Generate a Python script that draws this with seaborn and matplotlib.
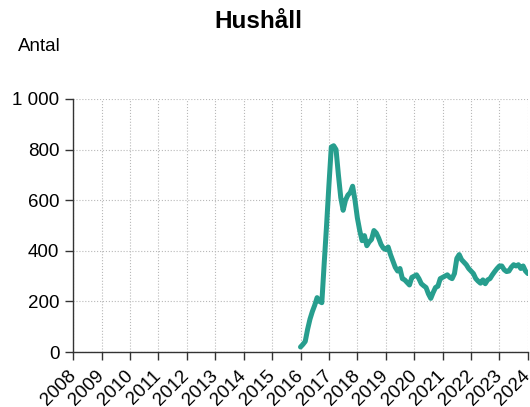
import numpy as np
import pandas as pd
import matplotlib
matplotlib.use("Agg")
import matplotlib.pyplot as plt
import seaborn as sns
from matplotlib.ticker import FuncFormatter

start_year = 2016
values = [20, 30, 42, 90, 130, 160, 185, 215, 200, 195,
          350, 500, 660, 810, 815, 800, 700, 610, 560, 600,
          620, 630, 655, 600, 530, 480, 440, 460, 420, 435,
          445, 480, 470, 450, 425, 410, 405, 415, 385, 360,
          335, 320, 330, 290, 285, 275, 265, 295, 300, 305,
          290, 270, 262, 255, 230, 212, 235, 255, 260, 290,
          295, 300, 305, 295, 290, 310, 370, 385, 365, 355,
          345, 330, 320, 310, 290, 280, 272, 285, 270, 285,
          290, 305, 318, 330, 340, 340, 325, 318, 320, 335,
          345, 340, 345, 330, 340, 320, 310]
year_ticks = list(range(2008, 2025))
y_ticks = [0, 200, 400, 600, 800, 1000]

df = pd.DataFrame({"t": [start_year + i / 12 for i in range(len(values))],
                   "v": values})

sns.set_style("white")
plt.rcParams['font.family'] = ['Liberation Sans', 'DejaVu Sans']
plt.rcParams['text.color'] = 'black'
plt.rcParams['xtick.color'] = '#333333'
plt.rcParams['ytick.color'] = '#333333'
plt.rcParams['xtick.labelcolor'] = 'black'
plt.rcParams['ytick.labelcolor'] = 'black'
plt.rcParams['xtick.labelsize'] = 13.5
plt.rcParams['ytick.labelsize'] = 13.5

fig = plt.figure(figsize=(5.30, 4.07), dpi=100)
ax = fig.add_axes([0.138, 0.135, 0.858, 0.622])
sns.lineplot(data=df, x="t", y="v", ax=ax, color="#279e8e", linewidth=3.6)

ax.set_xlim(2008, 2024)
ax.set_ylim(0, 1000)
ax.set_xticks(year_ticks)
ax.set_xticklabels([str(y) for y in year_ticks])
ax.set_yticks(y_ticks)
ax.yaxis.set_major_formatter(FuncFormatter(lambda v, p: f"{int(v):,}".replace(",", " ")))
ax.tick_params(axis="y", labelsize=13.5, length=6, width=1,
               direction="out", left=True, pad=4)
ax.tick_params(axis="x", labelsize=13.5, length=6, width=1, direction="out",
               bottom=True, pad=9.5)
for lab in ax.get_xticklabels():
    lab.set_rotation(45)
    lab.set_ha("right")
    lab.set_va("center")
    lab.set_rotation_mode("anchor")
ax.grid(True, linestyle=":", color="#b8b8b8", linewidth=0.8)
for s in ["top", "right"]:
    ax.spines[s].set_visible(False)
for s in ["left", "bottom"]:
    ax.spines[s].set_color("#333333")
    ax.spines[s].set_linewidth(1)
ax.set_xlabel("")
ax.set_ylabel("")

fig.text(0.488, 0.946, "Hushåll", ha="center", va="center", fontsize=17.5,
         fontweight="bold", color="black")
fig.text(0.034, 0.885, "Antal", ha="left", va="center", fontsize=13.5, color="black")

fig.savefig("out.png", dpi=100)
